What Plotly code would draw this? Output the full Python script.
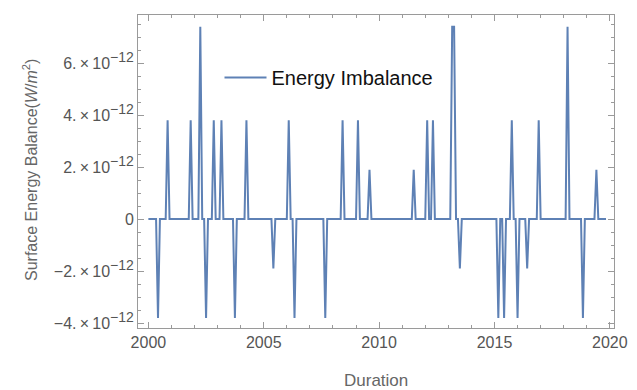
import plotly.graph_objects as go

# Monthly series starting Jan 2000; index = months since Jan 2000
n_months = 239
spike_months = [5, 10, 22, 27, 30, 34, 38, 45, 51, 65, 73, 76, 92, 101, 109, 115,
                138, 145, 148, 158, 159, 162, 182, 185, 189, 192, 197, 203, 218, 226, 233]
spike_values = [-3.8e-12, 3.8e-12, 3.8e-12, 7.4e-12, -3.8e-12, 3.8e-12, 3.8e-12, -3.8e-12,
                3.8e-12, -1.9e-12, 3.8e-12, -3.8e-12, -3.8e-12, 3.8e-12, 3.8e-12, 1.9e-12,
                1.9e-12, 3.8e-12, 3.8e-12, 7.4e-12, 7.4e-12, -1.9e-12, -3.8e-12, -3.8e-12,
                3.8e-12, -3.8e-12, -1.9e-12, 3.8e-12, 7.4e-12, -3.8e-12, 1.9e-12]

y_tickvals = [-4e-12, -2e-12, 0, 2e-12, 4e-12, 6e-12]
y_tick_mantissas = ["\u22124.", "\u22122.", "0", "2.", "4.", "6."]
x_tickvals = [2000, 2005, 2010, 2015, 2020]

SUP = "<sup><span style='font-size:14px'>\u221212</span></sup>"
y_ticktext = [m if m == "0" else m + "\u2009\u00d7\u200910" + SUP for m in y_tick_mantissas]

values = [0.0] * n_months
for m, v in zip(spike_months, spike_values):
    values[m] = v
times = [2000 + k / 12 for k in range(n_months)]

FONT = "Liberation Sans"
# page body has an 8px margin; compensate so the plot frame lands at 138..614 x 15..328
L, T, PW, PH = 130, 7, 476, 313

fig = go.Figure()
fig.add_trace(go.Scatter(x=times, y=values, mode="lines", name="Energy Imbalance",
                         line=dict(color="#5E81B5", width=2)))

axis_common = dict(showline=True, linecolor="#9a9a9a", linewidth=1, mirror="allticks",
                   ticks="inside", tickcolor="#9a9a9a", showgrid=False, zeroline=False,
                   automargin=False,
                   tickfont=dict(family=FONT, size=16, color="#555555"))

fig.update_xaxes(range=[1999.55, 2020.18], tickvals=x_tickvals, ticklen=6,
                 minor=dict(dtick=1, ticks="inside", ticklen=3, tickcolor="#9a9a9a"),
                 **axis_common)
fig.update_yaxes(range=[-4.19e-12, 7.85e-12], tickvals=y_tickvals, ticktext=y_ticktext, ticklen=6,
                 minor=dict(dtick=0.5e-12, ticks="inside", ticklen=3, tickcolor="#9a9a9a"),
                 **axis_common)

fig.update_layout(
    width=637, height=390, margin=dict(l=L, r=637 - L - PW, t=T, b=390 - T - PH),
    plot_bgcolor="white", paper_bgcolor="white",
    legend=dict(x=(219.5 - 138) / PW, y=0.80, xanchor="left", yanchor="middle", itemwidth=42,
                bgcolor="rgba(0,0,0,0)", font=dict(family=FONT, size=20, color="#111111")),
    showlegend=True,
    annotations=[
        dict(text="Duration", x=0.5, y=(328 - 380) / PH, xref="paper", yref="paper", showarrow=False,
             xanchor="center", yanchor="middle",
             font=dict(family=FONT, size=17, color="#666666")),
        dict(text="Surface Energy Balance(<i>W</i>/<i>m</i><sup>2</sup>)", x=(30 - 138) / PW,
             y=(328 - 170) / PH, xref="paper", yref="paper", textangle=-90, showarrow=False,
             xanchor="center", yanchor="middle",
             font=dict(family=FONT, size=16, color="#666666")),
    ],
)

fig.write_html("out.html")
